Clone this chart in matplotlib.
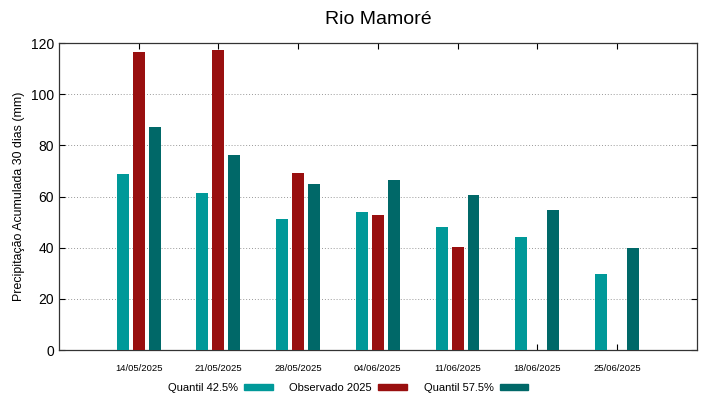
import numpy as np
import matplotlib
matplotlib.use('Agg')
import matplotlib.pyplot as plt
from matplotlib.patches import Patch

plt.rcParams['font.family'] = ['Liberation Sans', 'DejaVu Sans']

#%% data

dates = ['14/05/2025', '21/05/2025', '28/05/2025', '04/06/2025',
         '11/06/2025', '18/06/2025', '25/06/2025']
q425 = [68.8, 61.3, 51.3, 53.8, 48.1, 44.0, 29.7]
obs2025 = [116.5, 117.3, 69.3, 52.9, 40.4, np.nan, np.nan]
q575 = [87.0, 76.2, 64.8, 66.6, 60.7, 54.6, 40.0]

c_q425 = '#009999'
c_obs = '#990f0f'
c_q575 = '#006868'

#%% plot

x = np.arange(len(dates))
w = 0.15

fig = plt.figure(figsize=(7.19, 3.99), dpi=100)
ax = fig.add_axes([0.082, 0.1228, 0.887, 0.7692])

ax.bar(x - 0.2, q425, w, color=c_q425, zorder=3)
ax.bar(x, obs2025, w, color=c_obs, zorder=3)
ax.bar(x + 0.2, q575, w, color=c_q575, zorder=3)

ax.set_xlim(-1, 7)
ax.set_ylim(0, 120)
ax.set_xticks(x)
ax.set_xticklabels(dates, fontsize=6.8)
ax.set_yticks(np.arange(0, 121, 20))
ax.tick_params(axis='y', labelsize=10, direction='in', right=True, length=4)
ax.tick_params(axis='x', direction='in', top=True, length=4, pad=10)
ax.yaxis.grid(True, linestyle=(0, (1, 2)), color='#999999', linewidth=0.7, zorder=0)
for s in ax.spines.values():
    s.set_linewidth(0.9)
    s.set_color('#333333')

ax.set_ylabel('Precipitação Acumulada 30 dias (mm)', fontsize=8.9)
ax.set_title('Rio Mamoré', fontsize=14, pad=14)

handles = [Patch(color=c_q425), Patch(color=c_obs), Patch(color=c_q575)]
labels = ['Quantil 42.5%', 'Observado 2025', 'Quantil 57.5%']
fig.legend(handles, labels, loc='center', bbox_to_anchor=(0.484, 0.028), ncol=3,
           frameon=False, markerfirst=False, fontsize=8, handlelength=2.6,
           handleheight=0.45, columnspacing=1.5, handletextpad=0.55)

plt.savefig('out.png', dpi=100)
